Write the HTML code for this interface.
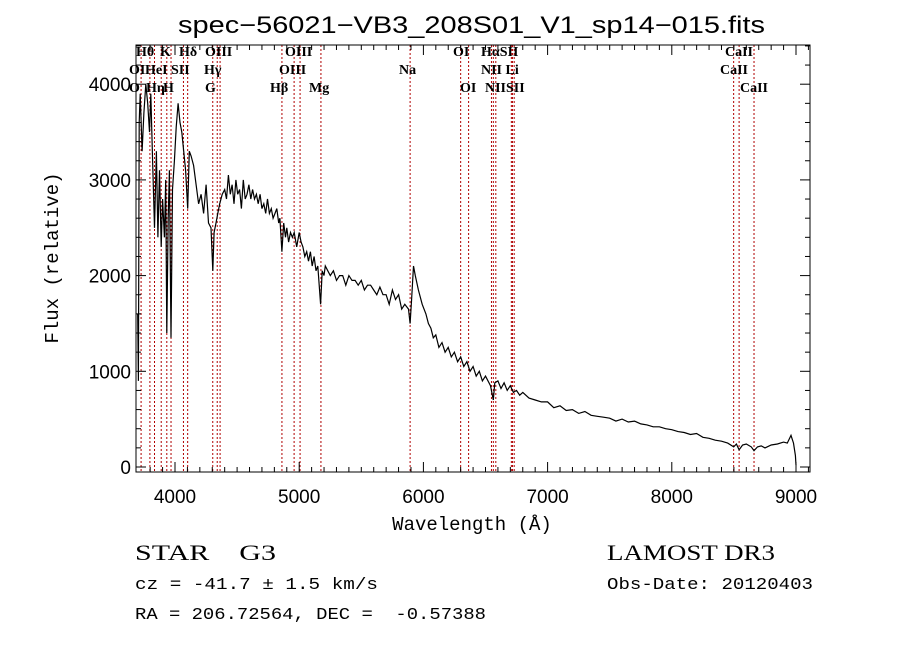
<!DOCTYPE html>
<html><head><meta charset="utf-8">
<style>
body{margin:0;background:#fff;}
svg{display:block;}
.tk{font-family:"Liberation Sans",sans-serif;font-size:19px;fill:#000;}
.ln{font-family:"Liberation Serif",serif;font-size:14px;fill:#000;font-weight:bold;}
</style></head>
<body>
<svg id="chart" width="900" height="649" viewBox="0 0 900 649" xmlns="http://www.w3.org/2000/svg">
<rect width="900" height="649" fill="#fff"/>
<text x="178" y="33" textLength="587" lengthAdjust="spacingAndGlyphs" font-family="Liberation Sans,sans-serif" font-size="24">spec−56021−VB3_208S01_V1_sp14−015.fits</text>
<g id="lines"></g>
<g id="axes"></g>
<path id="spec" fill="none" stroke="#000" stroke-width="1.2"/>
<text x="472" y="530" text-anchor="middle" font-family="Liberation Mono,monospace" font-size="19">Wavelength (Å)</text>
<text transform="translate(58,258) rotate(-90)" text-anchor="middle" font-family="Liberation Mono,monospace" font-size="19">Flux (relative)</text>
<text x="135" y="560" textLength="141" lengthAdjust="spacingAndGlyphs" font-family="Liberation Serif,serif" font-size="22" xml:space="preserve">STAR    G3</text>
<text x="607" y="560" textLength="168" lengthAdjust="spacingAndGlyphs" font-family="Liberation Serif,serif" font-size="22">LAMOST DR3</text>
<text x="135" y="589" textLength="243" lengthAdjust="spacingAndGlyphs" font-family="Liberation Mono,monospace" font-size="17">cz = -41.7 ± 1.5 km/s</text>
<text x="607" y="589" textLength="206" lengthAdjust="spacingAndGlyphs" font-family="Liberation Mono,monospace" font-size="17">Obs-Date: 20120403</text>
<text x="135" y="619" textLength="351" lengthAdjust="spacingAndGlyphs" font-family="Liberation Mono,monospace" font-size="17" xml:space="preserve">RA = 206.72564, DEC =  -0.57388</text>
</svg>
<script>
const wave=[3700,3705,3712,3720,3735,3750,3765,3780,3795,3805,3820,3835,3850,3862,3875,3889,3900,3915,3925,3934,3945,3955,3968,3980,3995,4010,4025,4040,4055,4070,4085,4102,4115,4130,4150,4170,4190,4210,4230,4250,4270,4290,4304,4315,4330,4345,4360,4380,4400,4415,4430,4445,4460,4475,4490,4505,4520,4535,4550,4565,4580,4595,4610,4625,4640,4655,4670,4685,4700,4715,4730,4745,4760,4775,4790,4805,4820,4835,4845,4861,4875,4890,4900,4915,4930,4945,4960,4980,5000,5015,5030,5045,5060,5075,5090,5105,5120,5135,5150,5172,5185,5200,5210,5230,5250,5275,5300,5325,5350,5375,5400,5425,5450,5475,5500,5525,5550,5575,5600,5625,5650,5675,5700,5725,5750,5775,5800,5825,5850,5880,5893,5905,5920,5935,5960,5990,6020,6040,6060,6080,6100,6125,6150,6175,6200,6225,6250,6275,6300,6325,6350,6375,6400,6425,6450,6475,6500,6540,6563,6575,6600,6625,6650,6675,6700,6725,6750,6775,6800,6850,6900,6950,7000,7050,7100,7150,7200,7250,7300,7350,7400,7450,7500,7550,7600,7650,7700,7750,7800,7850,7900,7950,8000,8050,8100,8150,8200,8250,8300,8350,8400,8450,8498,8520,8542,8570,8600,8640,8662,8690,8720,8750,8800,8850,8900,8930,8960,8980,8995,9000];
const flux=[1600,900,3600,3900,3300,3700,4000,3800,3500,3900,3200,2500,3300,2400,3100,2300,2800,2400,3000,1400,2600,3100,1350,2900,3200,3550,3800,3600,3500,3300,3100,2700,3300,3250,3150,2950,2750,2850,2650,2950,2550,2500,2050,2450,2550,2650,2750,2850,2900,2800,3050,2850,2950,2750,3000,2850,2900,2700,3000,2800,2850,2950,2800,2900,2800,2850,2750,2850,2700,2750,2650,2800,2650,2700,2600,2650,2700,2550,2600,2250,2550,2400,2500,2350,2450,2400,2450,2300,2450,2350,2300,2200,2250,2150,2250,2100,2200,2050,2100,1700,2050,2000,2100,2050,2000,2050,1950,2000,2000,1900,2000,1950,1950,1900,1950,1850,1900,1900,1850,1800,1880,1800,1800,1700,1850,1750,1800,1650,1700,1650,1500,1750,2100,2000,1850,1700,1600,1500,1450,1350,1380,1250,1300,1200,1250,1150,1200,1100,1150,1050,1100,1000,1050,950,1000,900,950,850,700,880,900,820,880,800,850,780,800,750,780,720,700,680,680,620,640,590,600,560,580,540,530,520,510,480,500,470,480,450,440,420,420,400,390,370,360,340,350,310,300,280,270,250,210,240,180,230,240,210,170,210,220,200,230,240,260,250,330,250,120,20];
const lineWave=[3727,3798,3835,3889,3934,3968,4068,4102,4304,4340,4363,4861,4959,5007,5175,5893,6300,6364,6548,6563,6583,6708,6717,6731,8498,8542,8662];
const labels=[["O",129,92],["OI",129,74],["Hθ",136,56],["Hη",146,92],["HeI",145,74],["K",160,56],["H",163,92],["SII",171,74],["Hδ",179,56],["G",205,92],["Hγ",204,74],["OIII",205,56],["Hβ",270,92],["OIII",279,74],["OIII",285,56],["Mg",309,92],["Na",399,74],["OI",453,56],["OI",460,92],["HαSII",481,56],["NII Li",481,74],["NIISII",485,92],["CaII",725,56],["CaII",720,74],["CaII",740,92]];
const yTicks=[0,1000,2000,3000,4000];
const xTicks=[4000,5000,6000,7000,8000,9000];
const X0=136,X1=810,Y0=45,Y1=472;
function xp(w){return 175+(w-4000)*0.1242;}
function yp(f){return 467-f*0.0957;}
const NS="http://www.w3.org/2000/svg";
function mk(t,a,p){const e=document.createElementNS(NS,t);for(const k in a)e.setAttribute(k,a[k]);p.appendChild(e);return e;}
const L=document.getElementById('lines');
lineWave.forEach(w=>{
 const e=mk('line',{x1:xp(w),x2:xp(w),y1:Y0,y2:Y1,stroke:'#b00000','stroke-width':1,'stroke-dasharray':'2,2'},L);
 
 
});
labels.forEach(l=>{
 const t=mk('text',{x:l[1],y:l[2],class:'ln'},L);t.textContent=l[0];
 
 
});
const A=document.getElementById('axes');
const fr=mk('rect',{x:X0,y:Y0,width:X1-X0,height:Y1-Y0,fill:'none',stroke:'#000','stroke-width':1},A);


for(let w=3800;w<=9100;w+=100){const x=xp(w);const big=w%1000===0;const l=big?10:5;
 mk('line',{x1:x,x2:x,y1:Y1,y2:Y1-l,stroke:'#000'},A);mk('line',{x1:x,x2:x,y1:Y0,y2:Y0+l,stroke:'#000'},A);}
for(let f=0;f<=4400;f+=200){const y=yp(f);const big=f%1000===0;const l=big?10:5;
 mk('line',{x1:X0,x2:X0+l,y1:y,y2:y,stroke:'#000'},A);mk('line',{x1:X1,x2:X1-l,y1:y,y2:y,stroke:'#000'},A);}
xTicks.forEach(w=>{const t=mk('text',{x:xp(w),y:Y1+31,class:'tk','text-anchor':'middle'},A);t.textContent=w;
 
 });
yTicks.forEach(f=>{const t=mk('text',{x:X0-5,y:yp(f)+7,class:'tk','text-anchor':'end'},A);t.textContent=f;
 
 });
let d='';wave.forEach((w,i)=>{d+=(i?'L':'M')+xp(w).toFixed(1)+','+yp(flux[i]).toFixed(1);});
document.getElementById('spec').setAttribute('d',d);
</script>
</body></html>
